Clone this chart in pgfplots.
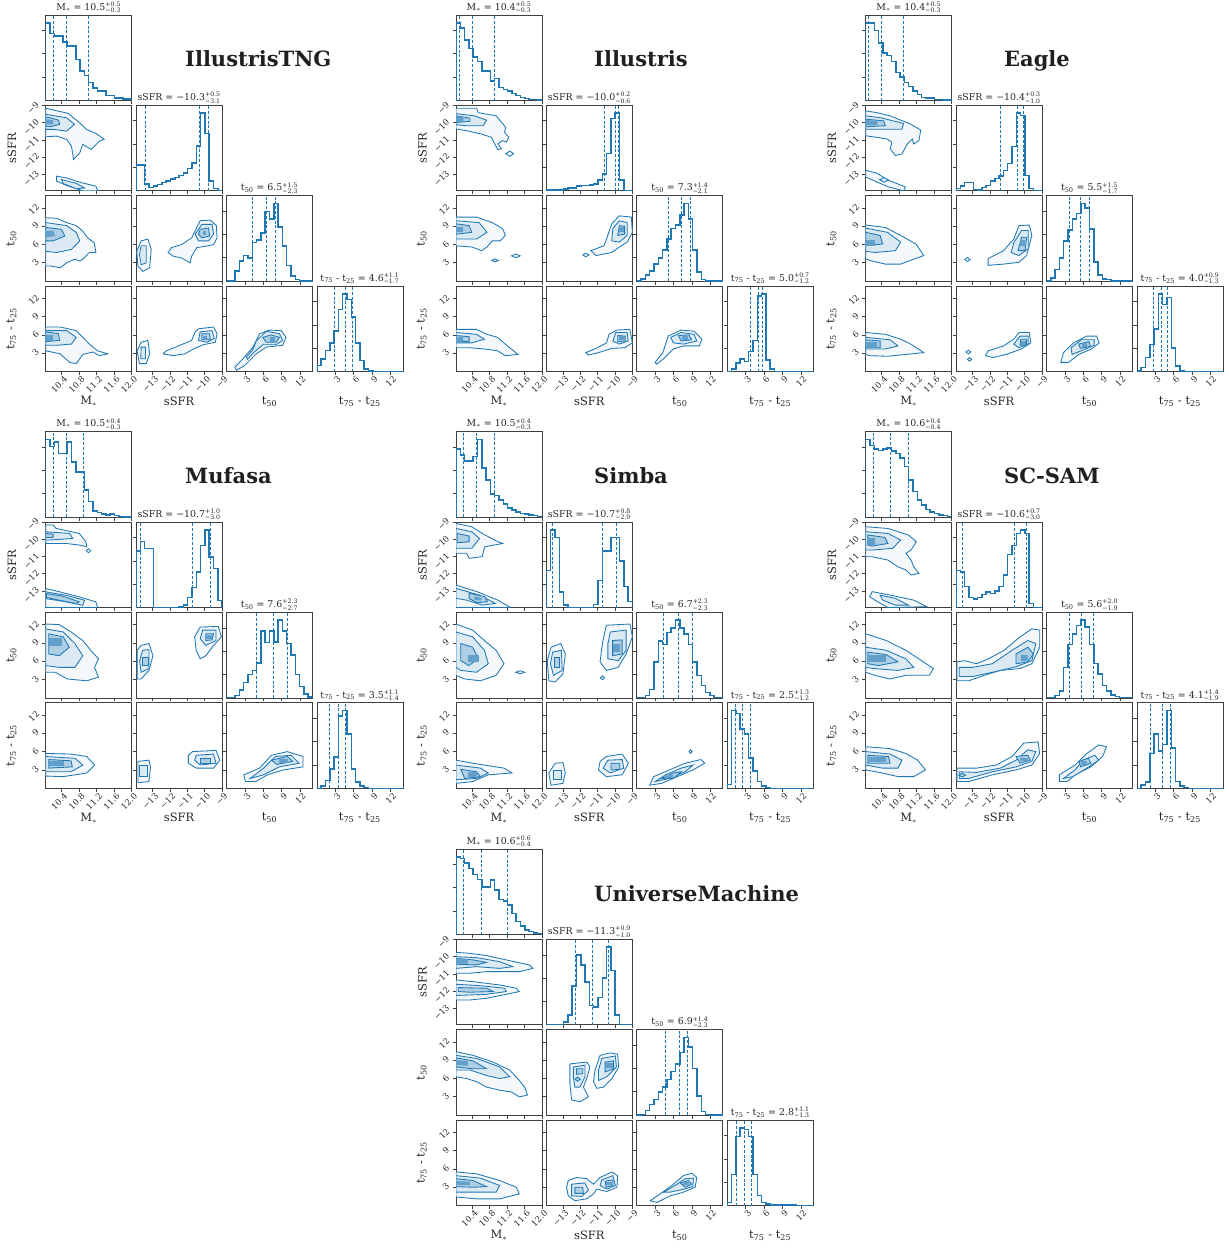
\documentclass[border=0pt]{standalone}
\usepackage{fontspec}
\setmainfont{DejaVu Serif}
\usepackage{pgfplots}
\pgfplotsset{compat=1.18}
\definecolor{tb}{HTML}{1F77B4}
\newcommand{\tk}{\fontsize{8.4}{9}\selectfont}
\newcommand{\ttl}{\fontsize{9.4}{10}\selectfont}
\newcommand{\lbl}{\fontsize{11.5}{13}\selectfont}
\newcommand{\pq}[2]{$^{\mbox{\fontsize{6.2}{6.5}\selectfont +#1}}_{\mbox{\fontsize{6.2}{6.5}\selectfont −#2}}$}
\pgfplotsset{
 base/.style={scale only axis, width=86pt, height=85.5pt, anchor=north west,
   axis line style={line width=0.8pt, black!75}, tick style={line width=0.8pt, black!75},
   tick align=outside, major tick length=3.5pt, tick pos=left,
   xticklabels={}, yticklabels={},
   xticklabel style={font=\tk, text=black!85, rotate=45, anchor=north east, xshift=2.5pt, inner sep=1.5pt},
   yticklabel style={font=\tk, text=black!85, rotate=45, anchor=south east, inner sep=1.5pt},
   every axis title/.style={at={(0.5,1)}, anchor=south, font=\ttl, text=black!85, inner sep=2pt},
   every axis x label/.style={at={(axis description cs:0.5,-0.25)}, anchor=north, font=\lbl, text=black!85},
   every axis y label/.style={at={(axis description cs:-0.3,0.5)}, anchor=south, rotate=90, font=\lbl, text=black!85},
   clip=true},
 pos/.style 2 args={at={(\cx pt+#1*90.4pt,-\cy pt-#2*90.35pt)}},
 xM/.style={xmin=10.03,xmax=12,xtick={10.4,10.8,11.2,11.6,12.0}},
 xS/.style={xmin=-13.95,xmax=-9,xtick={-13,-12,-11,-10,-9}},
 xT/.style={xmin=0,xmax=14,xtick={3,6,9,12}},
 yS/.style={ymin=-13.95,ymax=-9,ytick={-13,-12,-11,-10,-9}},
 yT/.style={ymin=0,ymax=14,ytick={3,6,9,12}},
 yH/.style={ymin=0,ymax=110,ytick={30,60,90}},
 lxM/.style={xticklabels={10.4,10.8,11.2,11.6,12.0},xlabel={M$_*$}},
 lxS/.style={xticklabels={−13,−12,−11,−10,−9},xlabel={sSFR}},
 lxT/.style={xticklabels={3,6,9,12},xlabel={t\textsubscript{50}}},
 lxU/.style={xticklabels={3,6,9,12},xlabel={t\textsubscript{75} - t\textsubscript{25}}},
 lyS/.style={yticklabels={−13,−12,−11,−10,−9},ylabel={sSFR}},
 lyT/.style={yticklabels={3,6,9,12},ylabel={t\textsubscript{50}}},
 lyU/.style={yticklabels={3,6,9,12},ylabel={t\textsubscript{75} - t\textsubscript{25}}},
 hist/.style={const plot mark left, color=tb, line width=1.5pt, mark=none},
 qline/.style={color=tb, line width=0.75pt, dash pattern=on 3pt off 1.8pt, mark=none},
 c1/.style={draw=tb, line width=0.85pt, fill=tb!5, mark=none},
 c2/.style={draw=tb, line width=0.85pt, fill=tb!16, mark=none},
 c3/.style={draw=tb, line width=0.85pt, fill=tb!36, mark=none},
 c4/.style={draw=none, fill=tb!70, mark=none},
}
\newcommand{\hst}[3]{\addplot[hist] table[header=false,row sep=\\,y index=0,x expr={#1+max(\coordindex-1,0)*#2}]{#3};}
\newcommand{\hM}[1]{\hst{10.03}{0.0985}{0\\#1\\0\\}}
\newcommand{\hS}[1]{\hst{-13.95}{0.2475}{0\\#1\\0\\}}
\newcommand{\hT}[1]{\hst{0}{0.7}{0\\#1\\0\\}}
\newcommand{\qq}[3]{\addplot[qline] coordinates {(#1,0)(#1,110)};\addplot[qline] coordinates {(#2,0)(#2,110)};\addplot[qline] coordinates {(#3,0)(#3,110)};}
\newcommand{\ca}[1]{\addplot[c1] coordinates {#1} -- cycle;}
\newcommand{\cb}[1]{\addplot[c2] coordinates {#1} -- cycle;}
\newcommand{\cc}[1]{\addplot[c3] coordinates {#1} -- cycle;}
\newcommand{\cd}[1]{\addplot[c4] coordinates {#1} -- cycle;}
\newcommand{\simtitle}[3]{\node[anchor=base west, inner sep=0pt, font=\fontsize{21}{21}\selectfont\bfseries, text=black!88] at (#1pt,-#2pt) {#3};}
\begin{document}
\begin{tikzpicture}
\useasboundingbox (0,0) rectangle (1229pt,-1248pt);
\simtitle{185}{66.5}{IllustrisTNG}
\simtitle{594}{66.5}{Illustris}
\simtitle{1004}{66.5}{Eagle}
\simtitle{185}{483.3}{Mufasa}
\simtitle{594}{483.3}{Simba}
\simtitle{1004}{483.3}{SC-SAM}
\simtitle{594}{901}{UniverseMachine}
%%%%%%%%%%%%%%%% IllustrisTNG
\def\cx{45.7}\def\cy{15}
\begin{axis}[base,pos={0}{0},xM,yH,title={M$_*$ = 10.5\pq{0.5}{0.3}}]
\hM{100\\86\\83\\83\\75\\70\\70\\53\\38\\32\\23\\16\\12\\12\\6.5\\6.5\\3.5\\3.5\\2\\2}
\qq{10.2}{10.5}{11.0}
\end{axis}
\begin{axis}[base,pos={0}{1},xM,yS,lyS]
\ca{(10.03,-9.17)(10.54,-9.46)(10.81,-10.01)(10.96,-10.39)(11.18,-10.62)(11.37,-10.97)(11.26,-11.07)(11.15,-11.36)(11.07,-11.55)(10.88,-11.26)(10.81,-11.75)(10.67,-12.13)(10.62,-11.36)(10.51,-10.97)(10.28,-10.78)(10.03,-10.82)}
\cb{(10.03,-9.52)(10.51,-9.72)(10.69,-10.10)(10.51,-10.49)(10.20,-10.39)(10.03,-10.39)}
\cc{(10.03,-9.66)(10.32,-9.85)(10.35,-10.10)(10.13,-10.24)(10.03,-10.20)}
\cd{(10.03,-9.8)(10.2,-9.85)(10.2,-10.1)(10.03,-10.1)}
\ca{(10.28,-13.10)(10.51,-13.20)(10.81,-13.45)(11.18,-13.68)(11.22,-13.95)(10.88,-13.95)(10.51,-13.64)(10.28,-13.39)}
\cb{(10.39,-13.29)(10.73,-13.52)(10.92,-13.78)(10.73,-13.83)(10.43,-13.52)}
\end{axis}
\begin{axis}[base,pos={1}{1},xS,yH,title={sSFR = −10.3\pq{0.5}{3.1}}]
\hS{33\\33\\9\\4\\6\\8\\10.5\\12.6\\15\\17\\20\\23\\29\\36\\58\\100\\74\\13\\3\\0}
\qq{-13.4}{-10.3}{-9.8}
\end{axis}
\begin{axis}[base,pos={0}{2},xM,yT,lyT]
\ca{(10.03,10.4)(10.28,10.3)(10.51,9.6)(10.73,9.1)(10.88,8.2)(10.99,7.1)(11.14,6.3)(11.18,4.7)(11.03,4.7)(10.88,3.6)(10.81,3.3)(10.69,3.6)(10.51,3.0)(10.36,2.2)(10.13,2.5)(10.03,2.5)}
\cb{(10.03,9.6)(10.51,9.1)(10.73,8.0)(10.81,6.6)(10.62,5.2)(10.28,4.7)(10.03,4.9)}
\cc{(10.03,8.8)(10.39,8.5)(10.47,7.4)(10.20,6.6)(10.03,6.6)}
\cd{(10.03,8.2)(10.2,8.3)(10.25,7.4)(10.03,7.2)}
\end{axis}
\begin{axis}[base,pos={1}{2},xS,yT]
\ca{(-10.26,9.9)(-9.68,10.0)(-9.33,9.1)(-9.29,7.1)(-9.49,6.0)(-9.78,5.8)(-10.46,5.5)(-10.75,4.1)(-10.84,3.0)(-11.33,3.8)(-11.82,4.1)(-12.11,4.7)(-11.91,5.5)(-11.33,6.0)(-10.75,7.1)(-10.46,8.8)}
\cb{(-10.17,9.3)(-9.58,9.3)(-9.49,7.7)(-9.78,6.6)(-10.36,6.6)(-10.55,7.7)}
\cc{(-10.26,8.5)(-9.78,8.7)(-9.72,7.4)(-10.17,7.1)(-10.36,7.7)}
\cd{(-10.1,8.2)(-9.9,8.2)(-9.9,7.6)(-10.1,7.6)}
\ca{(-13.66,6.6)(-13.27,6.9)(-13.08,5.2)(-13.17,2.2)(-13.56,1.6)(-13.85,2.5)(-13.91,4.9)}
\cb{(-13.66,5.8)(-13.37,5.8)(-13.37,3.0)(-13.66,2.7)(-13.76,4.4)}
\end{axis}
\begin{axis}[base,pos={2}{2},xT,yH,title={t\textsubscript{50} = 6.5\pq{1.5}{2.3}}]
\hT{0\\0\\13\\26\\33\\30\\50\\53\\62\\90\\80\\100\\70\\45\\20\\7\\2\\0\\0\\0}
\qq{4.2}{6.5}{8.0}
\end{axis}
\begin{axis}[base,pos={0}{3},xM,yT,lxM,lyU]
\ca{(10.03,7.3)(10.36,7.3)(10.73,6.7)(10.88,5.6)(11.03,4.5)(11.22,3.4)(11.45,2.9)(11.26,2.6)(11.11,3.2)(10.88,2.8)(10.73,1.3)(10.58,1.5)(10.36,2.9)(10.03,3.4)}
\cb{(10.03,6.7)(10.51,6.7)(10.73,5.6)(10.62,4.5)(10.28,4.3)(10.03,4.3)}
\cc{(10.03,6.5)(10.32,6.2)(10.35,5.1)(10.03,4.9)}
\cd{(10.03,6.0)(10.2,6.0)(10.2,5.0)(10.03,5.0)}
\end{axis}
\begin{axis}[base,pos={1}{3},xS,yT,lxS]
\ca{(-10.36,7.0)(-9.49,7.3)(-9.29,6.2)(-9.39,4.8)(-10.07,4.4)(-10.65,3.7)(-11.14,2.9)(-11.82,2.6)(-12.40,2.9)(-12.21,3.4)(-11.43,4.3)(-10.75,5.1)(-10.55,6.5)}
\cb{(-10.26,6.5)(-9.58,6.7)(-9.45,5.4)(-9.88,4.8)(-10.36,5.1)}
\cc{(-10.17,6.2)(-9.72,6.2)(-9.68,5.2)(-10.17,5.2)}
\cd{(-10.1,5.9)(-9.85,5.9)(-9.85,5.3)(-10.1,5.3)}
\ca{(-13.66,4.8)(-13.27,5.1)(-13.17,2.9)(-13.37,1.3)(-13.76,1.3)(-13.89,3.4)}
\cb{(-13.66,4.0)(-13.41,4.0)(-13.41,2.1)(-13.68,2.1)}
\end{axis}
\begin{axis}[base,pos={2}{3},xT,yT,lxT]
\ca{(1.35,0.7)(2.69,2.1)(4.31,4.0)(5.39,6.2)(7.0,6.8)(8.89,6.7)(9.69,5.6)(9.15,4.3)(6.46,4.0)(4.85,2.9)(2.96,1.0)(1.62,0.2)}
\cb{(3.23,2.4)(4.31,3.6)(4.85,5.0)(6.46,6.6)(8.62,6.2)(9.15,5.1)(8.08,4.4)(5.92,4.4)(4.31,3.0)(3.4,2.0)}
\cc{(5.92,5.6)(7.27,6.0)(8.62,5.6)(8.08,4.8)(6.46,4.8)}
\cd{(7.0,5.6)(7.9,5.6)(7.9,4.9)(7.0,4.9)}
\end{axis}
\begin{axis}[base,pos={3}{3},xT,yH,lxU,title={t\textsubscript{75} - t\textsubscript{25} = 4.6\pq{1.1}{1.7}}]
\hT{8\\16\\27\\37\\52\\80\\100\\93\\70\\37\\14\\3\\1\\0\\0\\0\\0\\0\\0\\0}
\qq{2.9}{4.6}{5.7}
\end{axis}
%%%%%%%%%%%%%%%% Illustris
\def\cx{456}\def\cy{15}
\begin{axis}[base,pos={0}{0},xM,yH,title={M$_*$ = 10.4\pq{0.5}{0.3}}]
\hM{100\\93\\78\\67\\56\\50\\38\\38\\25\\28\\17\\14\\12\\9\\6.5\\4\\2.6\\1.3\\1\\0.5}
\qq{10.1}{10.4}{10.9}
\end{axis}
\begin{axis}[base,pos={0}{1},xM,yS,lyS]
\ca{(10.03,-9.17)(10.50,-9.17)(10.54,-9.42)(10.95,-9.61)(11.17,-10.28)(11.14,-10.56)(11.24,-10.85)(11.18,-11.13)(11.09,-11.04)(10.99,-11.23)(11.07,-11.51)(10.99,-11.57)(10.92,-11.26)(10.84,-10.85)(10.61,-10.66)(10.27,-10.47)(10.03,-10.37)}
\cb{(10.03,-9.48)(10.46,-9.61)(10.73,-9.86)(10.65,-10.18)(10.27,-10.18)(10.03,-10.12)}
\cc{(10.03,-9.61)(10.35,-9.74)(10.35,-9.93)(10.03,-9.99)}
\cd{(10.03,-9.65)(10.2,-9.7)(10.2,-9.95)(10.03,-9.95)}
\ca{(11.17,-11.8)(11.26,-11.65)(11.35,-11.8)(11.26,-11.95)}
\end{axis}
\begin{axis}[base,pos={1}{1},xS,yH,title={sSFR = −10.0\pq{0.2}{0.6}}]
\hS{1.3\\1.3\\1.3\\1.3\\2.6\\3.4\\3.4\\6.4\\7\\7\\7.7\\9\\14\\22\\48\\93\\100\\14\\0\\0}
\qq{-10.6}{-10.0}{-9.8}
\end{axis}
\begin{axis}[base,pos={0}{2},xM,yT,lyT]
\ca{(10.03,10.5)(10.50,10.5)(10.86,9.6)(11.10,8.6)(11.16,7.5)(11.04,6.6)(10.86,6.6)(10.74,5.6)(10.62,5.0)(10.39,5.6)(10.03,5.8)}
\cb{(10.03,9.9)(10.56,9.6)(10.74,8.0)(10.50,6.9)(10.03,6.9)}
\cc{(10.03,9.4)(10.33,9.1)(10.39,8.0)(10.03,7.7)}
\cd{(10.03,8.8)(10.2,8.8)(10.2,8.0)(10.03,8.0)}
\ca{(11.3,4.15)(11.4,4.45)(11.5,4.15)(11.4,3.85)}
\ca{(10.85,3.4)(10.92,3.65)(11.0,3.4)(10.92,3.15)}
\end{axis}
\begin{axis}[base,pos={1}{2},xS,yT]
\ca{(-9.75,10.7)(-9.06,10.5)(-9.0,8.0)(-9.3,6.4)(-9.75,5.6)(-10.19,4.7)(-11.09,4.2)(-11.39,5.0)(-10.64,5.8)(-10.49,6.9)(-10.19,9.4)}
\cb{(-9.75,9.9)(-9.3,9.6)(-9.3,7.5)(-9.75,6.4)(-10.19,6.6)(-10.13,8.6)}
\cc{(-9.75,9.1)(-9.45,9.0)(-9.45,7.7)(-9.84,7.5)}
\cd{(-9.8,8.8)(-9.5,8.8)(-9.5,8.0)(-9.8,8.0)}
\ca{(-11.85,4.3)(-11.68,4.6)(-11.5,4.3)(-11.68,4.0)}
\end{axis}
\begin{axis}[base,pos={2}{2},xT,yH,title={t\textsubscript{50} = 7.3\pq{1.4}{2.1}}]
\hT{0\\3\\8\\13\\22\\30\\40\\54\\68\\72\\85\\100\\80\\40\\12\\2\\0\\0\\0\\0}
\qq{5.2}{7.3}{8.7}
\end{axis}
\begin{axis}[base,pos={0}{3},xM,yT,lxM,lyU]
\ca{(10.03,6.9)(10.50,6.9)(10.74,6.1)(10.98,5.6)(11.16,4.5)(11.45,2.8)(11.16,2.6)(10.98,3.4)(10.68,3.7)(10.33,3.9)(10.03,3.9)}
\cb{(10.03,6.4)(10.50,6.1)(10.68,5.3)(10.39,4.7)(10.03,4.7)}
\cc{(10.03,5.9)(10.33,5.7)(10.33,4.9)(10.03,5.0)}
\cd{(10.03,5.7)(10.2,5.7)(10.2,5.0)(10.03,5.0)}
\end{axis}
\begin{axis}[base,pos={1}{3},xS,yT,lxS]
\ca{(-9.89,6.8)(-9.15,6.9)(-9.0,4.7)(-9.45,3.9)(-10.19,3.8)(-10.94,3.1)(-11.54,2.7)(-11.68,3.1)(-11.09,3.8)(-10.49,4.7)(-10.34,6.1)}
\cb{(-9.95,6.4)(-9.3,6.4)(-9.24,5.0)(-9.75,4.5)(-10.13,5.0)}
\cc{(-9.84,5.9)(-9.42,5.8)(-9.42,5.0)(-9.84,4.9)}
\cd{(-9.8,5.8)(-9.5,5.8)(-9.5,5.1)(-9.8,5.1)}
\end{axis}
\begin{axis}[base,pos={2}{3},xT,yT,lxT]
\ca{(2.97,1.5)(4.24,3.1)(5.09,5.8)(7.21,6.8)(9.33,6.6)(10.6,5.3)(10.18,4.2)(7.64,4.2)(5.94,3.7)(4.24,2.0)(3.22,1.2)}
\cb{(5.52,5.6)(7.21,6.4)(9.33,6.1)(9.76,5.0)(7.64,4.5)(5.94,4.7)}
\cc{(6.79,5.9)(8.48,6.0)(8.91,5.2)(7.21,5.0)}
\cd{(7.3,5.9)(8.4,5.9)(8.4,5.2)(7.3,5.2)}
\end{axis}
\begin{axis}[base,pos={3}{3},xT,yH,lxU,title={t\textsubscript{75} - t\textsubscript{25} = 5.0\pq{0.7}{1.2}}]
\hT{0\\3\\11\\16\\13\\26\\40\\97\\100\\15\\3\\0\\0\\0\\0\\0\\0\\0\\0\\0}
\qq{3.8}{5.0}{5.7}
\end{axis}
%%%%%%%%%%%%%%%% Eagle
\def\cx{865.7}\def\cy{15}
\begin{axis}[base,pos={0}{0},xM,yH,title={M$_*$ = 10.4\pq{0.5}{0.3}}]
\hM{100\\100\\90\\74\\61\\58\\50\\36\\30\\23\\18\\12\\8\\4\\3\\3\\1\\1\\0.5\\0.5}
\qq{10.1}{10.4}{10.9}
\end{axis}
\begin{axis}[base,pos={0}{1},xM,yS,lyS]
\ca{(10.03,-9.32)(10.28,-9.42)(10.59,-9.61)(11.06,-10.09)(11.29,-10.43)(11.25,-11.04)(11.13,-11.24)(11.10,-10.95)(10.98,-11.24)(10.86,-11.81)(10.71,-11.9)(10.59,-11.52)(10.63,-11.14)(10.52,-10.95)(10.28,-10.85)(10.03,-10.76)}
\cb{(10.03,-9.61)(10.36,-9.71)(10.90,-10.05)(10.86,-10.38)(10.36,-10.38)(10.03,-10.38)}
\cc{(10.03,-9.80)(10.44,-9.90)(10.48,-10.18)(10.03,-10.24)}
\cd{(10.03,-9.85)(10.3,-9.9)(10.3,-10.15)(10.03,-10.15)}
\ca{(10.03,-12.76)(10.28,-12.92)(10.55,-13.34)(10.94,-13.72)(10.9,-13.95)(10.55,-13.72)(10.28,-13.43)(10.03,-13.15)}
\cb{(10.35,-13.3)(10.45,-13.18)(10.55,-13.32)(10.45,-13.45)}
\end{axis}
\begin{axis}[base,pos={1}{1},xS,yH,title={sSFR = −10.4\pq{0.3}{1.0}}]
\hS{3\\6.4\\10.7\\10.7\\2\\1\\4\\7\\13\\16\\19\\26\\35\\57\\100\\97\\20\\3\\0\\0}
\qq{-11.4}{-10.4}{-10.1}
\end{axis}
\begin{axis}[base,pos={0}{2},xM,yT,lyT]
\ca{(10.03,9.2)(10.48,8.8)(10.83,7.5)(11.18,6.1)(11.36,4.2)(11.24,3.9)(10.83,2.8)(10.48,2.8)(10.12,3.4)(10.03,3.7)}
\cb{(10.03,8.7)(10.53,8.0)(10.83,6.4)(10.71,5.0)(10.24,4.7)(10.03,4.9)}
\cc{(10.03,8.0)(10.36,7.5)(10.42,6.1)(10.03,5.8)}
\cd{(10.03,6.8)(10.25,6.8)(10.25,5.8)(10.03,5.8)}
\end{axis}
\begin{axis}[base,pos={1}{2},xS,yT]
\ca{(-10.33,9.1)(-9.74,9.2)(-9.59,7.5)(-9.89,4.2)(-10.33,3.1)(-11.22,2.8)(-12.11,2.6)(-12.11,3.7)(-11.22,5.0)(-10.63,6.9)}
\cb{(-10.18,8.3)(-9.80,8.3)(-9.80,5.3)(-10.33,4.2)(-10.78,4.7)(-10.63,6.3)}
\cc{(-10.18,7.2)(-9.89,7.2)(-9.98,5.0)(-10.39,5.0)}
\cd{(-10.3,6.8)(-10.0,6.8)(-10.0,5.8)(-10.3,5.8)}
\ca{(-13.45,3.55)(-13.3,3.9)(-13.15,3.55)(-13.3,3.2)}
\end{axis}
\begin{axis}[base,pos={2}{2},xT,yH,title={t\textsubscript{50} = 5.5\pq{1.5}{1.7}}]
\hT{0\\4\\15\\30\\52\\66\\80\\87\\100\\94\\67\\25\\8\\3\\2\\0\\0\\0\\0\\0}
\qq{3.8}{5.5}{7.0}
\end{axis}
\begin{axis}[base,pos={0}{3},xM,yT,lxM,lyU]
\ca{(10.03,6.4)(10.48,6.1)(10.83,5.3)(11.06,4.5)(11.36,3.1)(10.95,2.8)(10.53,2.5)(10.12,2.6)(10.03,2.8)}
\cb{(10.03,5.6)(10.59,5.2)(10.77,4.2)(10.48,3.7)(10.03,3.7)}
\cc{(10.03,5.2)(10.36,5.0)(10.36,3.9)(10.03,3.9)}
\cd{(10.03,4.9)(10.3,4.9)(10.3,4.1)(10.03,4.1)}
\end{axis}
\begin{axis}[base,pos={1}{3},xS,yT,lxS]
\ca{(-10.33,6.4)(-9.74,6.4)(-9.65,4.7)(-10.18,3.7)(-11.07,2.8)(-11.82,2.3)(-12.26,2.6)(-12.11,3.4)(-11.22,4.2)(-10.63,5.3)}
\cb{(-10.27,5.8)(-9.80,5.8)(-9.80,4.5)(-10.33,3.9)(-10.63,4.5)}
\cc{(-10.24,5.3)(-9.89,5.3)(-9.89,4.3)(-10.27,4.3)}
\cd{(-10.2,5.0)(-9.9,5.0)(-9.9,4.4)(-10.2,4.4)}
\ca{(-13.4,3.2)(-13.25,3.5)(-13.1,3.2)(-13.25,2.9)}
\ca{(-13.3,2.0)(-13.18,2.3)(-13.05,2.0)(-13.18,1.7)}
\end{axis}
\begin{axis}[base,pos={2}{3},xT,yT,lxT]
\ca{(2.33,1.5)(2.75,3.1)(4.41,4.7)(6.5,5.8)(8.16,5.8)(8.58,4.7)(7.33,3.7)(5.25,2.8)(3.58,1.5)}
\cb{(4.0,3.9)(5.66,5.2)(7.75,5.2)(7.75,4.3)(5.66,3.4)(4.16,2.8)}
\cc{(5.25,4.5)(6.91,4.9)(7.16,4.1)(5.5,3.8)}
\cd{(5.8,4.7)(6.6,4.7)(6.6,4.0)(5.8,4.0)}
\end{axis}
\begin{axis}[base,pos={3}{3},xT,yH,lxU,title={t\textsubscript{75} - t\textsubscript{25} = 4.0\pq{0.9}{1.3}}]
\hT{1\\5\\18\\35\\55\\100\\86\\95\\30\\7\\1\\0\\0\\0\\0\\0\\0\\0\\0\\0}
\qq{2.7}{4.0}{4.9}
\end{axis}
%%%%%%%%%%%%%%%% Mufasa
\def\cx{45.7}\def\cy{431.7}
\begin{axis}[base,pos={0}{0},xM,yH,title={M$_*$ = 10.5\pq{0.4}{0.3}}]
\hM{100\\91\\97\\82\\82\\97\\71\\58\\58\\35\\20\\8\\6\\4\\3\\4\\2\\1\\0.5\\0}
\qq{10.2}{10.5}{10.9}
\end{axis}
\begin{axis}[base,pos={0}{1},xM,yS,lyS]
\ca{(10.03,-9.17)(10.20,-9.17)(10.27,-9.37)(10.80,-9.66)(10.95,-10.14)(10.97,-10.43)(10.80,-10.33)(10.50,-10.24)(10.12,-10.24)(10.03,-10.24)}
\cb{(10.03,-9.56)(10.58,-9.66)(10.65,-9.95)(10.12,-10.04)(10.03,-10.04)}
\cc{(10.03,-9.66)(10.20,-9.70)(10.20,-9.89)(10.03,-9.89)}
\ca{(10.96,-10.66)(11.01,-10.54)(11.06,-10.66)(11.01,-10.78)}
\ca{(10.03,-12.85)(10.35,-13.04)(10.80,-13.33)(11.18,-13.62)(11.22,-13.95)(10.03,-13.95)}
\cb{(10.03,-13.04)(10.50,-13.24)(10.92,-13.53)(10.88,-13.82)(10.50,-13.62)(10.03,-13.43)}
\cc{(10.05,-13.14)(10.42,-13.29)(10.80,-13.62)(10.72,-13.72)(10.35,-13.53)(10.05,-13.37)}
\end{axis}
\begin{axis}[base,pos={1}{1},xS,yH,title={sSFR = −10.7\pq{1.0}{3.0}}]
\hS{73\\85\\76\\76\\0\\0\\0\\0\\0\\0\\1\\3\\13\\26\\46\\80\\100\\65\\50\\9}
\qq{-13.7}{-10.7}{-9.7}
\end{axis}
\begin{axis}[base,pos={0}{2},xM,yT,lyT]
\ca{(10.03,12.1)(10.34,12.0)(10.61,10.8)(10.88,9.4)(11.06,7.8)(11.24,6.4)(11.15,5.0)(11.24,3.4)(10.97,2.8)(10.52,3.1)(10.25,4.2)(10.03,4.2)}
\cb{(10.03,11.3)(10.43,10.8)(10.70,8.9)(10.88,6.9)(10.70,5.0)(10.34,5.0)(10.03,5.3)}
\cc{(10.10,10.5)(10.43,10.0)(10.57,8.3)(10.34,6.9)(10.10,7.2)}
\cd{(10.1,9.8)(10.4,9.8)(10.4,8.5)(10.1,8.5)}
\end{axis}
\begin{axis}[base,pos={1}{2},xS,yT]
\ca{(-10.26,11.6)(-9.22,11.7)(-9.04,10.0)(-9.49,8.6)(-9.94,6.9)(-10.26,6.4)(-10.49,7.8)(-10.58,10.0)}
\cb{(-10.12,11.1)(-9.35,11.1)(-9.35,9.4)(-9.94,8.6)(-10.26,9.7)}
\cc{(-9.94,10.5)(-9.49,10.5)(-9.58,9.5)(-9.94,9.4)}
\cd{(-9.9,10.3)(-9.6,10.3)(-9.6,9.6)(-9.9,9.6)}
\ca{(-13.66,8.6)(-13.21,8.9)(-12.98,6.9)(-13.21,4.5)(-13.66,3.1)(-13.89,3.1)(-13.89,7.8)}
\cb{(-13.57,7.8)(-13.21,7.9)(-13.21,4.8)(-13.66,4.2)(-13.75,6.1)}
\cc{(-13.57,6.7)(-13.25,6.7)(-13.25,5.3)(-13.57,5.3)}
\end{axis}
\begin{axis}[base,pos={2}{2},xT,yH,title={t\textsubscript{50} = 7.6\pq{2.3}{2.7}}]
\hT{0\\0\\3\\10\\20\\30\\35\\45\\86\\71\\86\\72\\100\\86\\70\\55\\30\\15\\5\\1}
\qq{4.9}{7.6}{9.9}
\end{axis}
\begin{axis}[base,pos={0}{3},xM,yT,lxM,lyU]
\ca{(10.03,5.7)(10.61,5.6)(10.97,5.2)(11.15,3.8)(10.97,2.5)(10.43,1.9)(10.03,2.0)}
\cb{(10.03,5.2)(10.70,4.9)(10.88,3.8)(10.61,2.7)(10.03,2.7)}
\cc{(10.10,4.7)(10.61,4.5)(10.64,3.5)(10.10,3.3)}
\cd{(10.1,4.4)(10.45,4.4)(10.45,3.6)(10.1,3.6)}
\end{axis}
\begin{axis}[base,pos={1}{3},xS,yT,lxS]
\ca{(-10.71,6.0)(-9.35,6.2)(-9.13,4.6)(-9.49,3.3)(-10.49,3.3)(-10.94,4.1)(-10.94,5.4)}
\cb{(-10.49,5.4)(-9.49,5.6)(-9.35,4.1)(-10.26,3.8)(-10.58,4.6)}
\cc{(-10.26,4.9)(-9.67,4.9)(-9.67,4.0)(-10.26,4.0)}
\ca{(-13.84,4.4)(-13.21,4.6)(-13.12,3.5)(-13.21,1.1)(-13.84,0.9)}
\cb{(-13.75,3.8)(-13.30,3.8)(-13.30,1.9)(-13.75,1.9)}
\end{axis}
\begin{axis}[base,pos={2}{3},xT,yT,lxT]
\ca{(3.08,1.1)(2.82,2.2)(5.39,3.3)(7.32,5.4)(9.89,6.0)(12.45,5.2)(12.45,3.5)(9.24,3.0)(6.68,2.2)(4.75,1.1)}
\cb{(3.85,1.6)(6.03,3.3)(7.96,5.2)(10.53,5.4)(11.81,4.1)(8.6,3.5)(6.03,2.2)}
\cc{(7.32,4.6)(9.89,5.2)(10.79,4.4)(8.22,3.9)}
\cd{(8.5,4.8)(10.0,4.8)(10.0,4.1)(8.5,4.1)}
\end{axis}
\begin{axis}[base,pos={3}{3},xT,yH,lxU,title={t\textsubscript{75} - t\textsubscript{25} = 3.5\pq{1.1}{1.4}}]
\hT{0\\3\\10\\25\\40\\93\\100\\70\\25\\8\\3\\1\\0\\0\\0\\0\\0\\0\\0\\0}
\qq{2.1}{3.5}{4.6}
\end{axis}
%%%%%%%%%%%%%%%% Simba
\def\cx{456}\def\cy{431.7}
\begin{axis}[base,pos={0}{0},xM,yH,title={M$_*$ = 10.5\pq{0.4}{0.3}}]
\hM{88\\80\\72\\72\\78\\100\\63\\48\\30\\28\\22\\17\\12\\9\\7\\5\\4\\3\\2\\1}
\qq{10.2}{10.5}{10.9}
\end{axis}
\begin{axis}[base,pos={0}{1},xM,yS,lyS]
\ca{(10.03,-9.08)(10.39,-9.27)(10.63,-9.66)(10.99,-10.14)(11.10,-10.24)(10.69,-10.43)(10.63,-11.0)(10.33,-11.1)(10.27,-10.81)(10.03,-10.81)}
\cb{(10.03,-9.37)(10.39,-9.56)(10.57,-9.95)(10.39,-10.52)(10.03,-10.52)}
\cc{(10.06,-9.66)(10.33,-9.81)(10.33,-10.14)(10.06,-10.20)}
\ca{(10.03,-12.65)(10.51,-13.03)(10.99,-13.52)(11.28,-13.95)(10.03,-13.95)}
\cb{(10.03,-12.84)(10.57,-13.23)(10.93,-13.71)(10.63,-13.81)(10.27,-13.52)(10.03,-13.42)}
\cc{(10.33,-13.13)(10.69,-13.32)(10.75,-13.61)(10.51,-13.67)(10.33,-13.42)}
\cd{(10.45,-13.3)(10.62,-13.4)(10.6,-13.55)(10.45,-13.5)}
\end{axis}
\begin{axis}[base,pos={1}{1},xS,yH,title={sSFR = −10.7\pq{0.8}{2.9}}]
\hS{48\\100\\90\\20\\3\\0\\0\\0\\0\\0\\0\\4\\35\\73\\73\\90\\90\\60\\27\\8}
\qq{-13.6}{-10.7}{-9.9}
\end{axis}
\begin{axis}[base,pos={0}{2},xM,yT,lyT]
\ca{(10.03,12.1)(10.41,11.1)(10.68,9.4)(10.95,7.8)(11.13,5.6)(10.95,3.7)(10.59,2.8)(10.23,3.1)(10.03,3.7)}
\cb{(10.03,10.8)(10.41,10.0)(10.68,7.8)(10.77,5.6)(10.50,4.2)(10.14,4.5)(10.03,5.0)}
\cc{(10.14,8.9)(10.41,8.3)(10.55,6.4)(10.32,5.3)(10.14,6.1)}
\cd{(10.3,7.0)(10.55,7.0)(10.55,5.8)(10.3,5.8)}
\ca{(11.4,4.2)(11.5,4.45)(11.6,4.2)(11.5,3.95)}
\end{axis}
\begin{axis}[base,pos={1}{2},xS,yT]
\ca{(-10.50,11.9)(-9.14,12.1)(-9.0,10.0)(-9.36,7.2)(-9.82,5.0)(-10.50,4.5)(-10.86,5.9)(-10.73,8.9)}
\cb{(-10.27,10.8)(-9.36,11.1)(-9.36,7.8)(-9.82,6.1)(-10.41,6.4)(-10.41,8.9)}
\cc{(-10.14,9.4)(-9.59,9.5)(-9.59,7.2)(-10.14,6.9)}
\cd{(-10.1,8.8)(-9.7,8.8)(-9.7,7.5)(-10.1,7.5)}
\ca{(-13.68,8.3)(-13.13,8.9)(-12.86,7.2)(-13.0,3.9)(-13.45,2.6)(-13.81,2.8)(-13.9,6.1)}
\cb{(-13.59,7.5)(-13.09,7.8)(-13.04,4.5)(-13.54,3.7)(-13.72,5.6)}
\cc{(-13.5,6.7)(-13.18,6.7)(-13.18,5.0)(-13.5,5.0)}
\ca{(-10.85,3.3)(-10.72,3.6)(-10.6,3.3)(-10.72,3.0)}
\end{axis}
\begin{axis}[base,pos={2}{2},xT,yH,title={t\textsubscript{50} = 6.7\pq{2.3}{2.3}}]
\hT{0\\0\\3\\11\\46\\73\\69\\84\\90\\100\\90\\82\\69\\46\\29\\16\\7\\3\\0\\0}
\qq{4.4}{6.7}{9.0}
\end{axis}
\begin{axis}[base,pos={0}{3},xM,yT,lxM,lyU]
\ca{(10.03,4.6)(10.41,4.1)(11.13,3.3)(11.31,2.5)(10.77,2.2)(10.41,1.1)(10.03,0.8)}
\cb{(10.03,3.8)(10.59,3.3)(10.77,2.5)(10.50,1.6)(10.03,1.4)}
\cc{(10.14,3.1)(10.50,2.7)(10.59,1.9)(10.23,1.6)}
\cd{(10.3,2.6)(10.5,2.6)(10.5,1.8)(10.3,1.8)}
\end{axis}
\begin{axis}[base,pos={1}{3},xS,yT,lxS]
\ca{(-10.50,5.2)(-9.59,5.6)(-9.23,4.1)(-9.59,2.2)(-10.50,1.9)(-10.95,3.0)(-10.86,4.4)}
\cb{(-10.41,4.6)(-9.59,4.7)(-9.5,3.3)(-10.27,2.5)(-10.68,3.3)}
\cc{(-10.23,4.1)(-9.73,4.1)(-9.73,3.1)(-10.23,3.0)}
\ca{(-13.45,4.1)(-13.0,4.2)(-12.86,2.5)(-13.0,0.8)(-13.68,0.5)(-13.81,2.5)}
\cb{(-13.54,2.9)(-13.09,2.9)(-13.09,1.4)(-13.54,1.4)}
\end{axis}
\begin{axis}[base,pos={2}{3},xT,yT,lxT]
\ca{(2.1,0.5)(2.74,1.9)(5.3,3.0)(7.87,4.1)(10.43,4.7)(11.07,4.1)(9.15,3.0)(6.59,1.9)(4.02,0.8)}
\cb{(3.0,1.1)(4.67,2.2)(7.23,3.3)(9.15,3.8)(7.87,2.7)(5.3,1.6)}
\cc{(4.02,1.6)(5.95,2.5)(7.23,2.7)(5.95,1.6)}
\cd{(4.5,2.1)(5.9,2.2)(5.9,1.7)(4.5,1.6)}
\ca{(8.5,6.0)(8.75,6.3)(9.0,6.0)(8.75,5.7)}
\end{axis}
\begin{axis}[base,pos={3}{3},xT,yH,lxU,title={t\textsubscript{75} - t\textsubscript{25} = 2.5\pq{1.3}{1.2}}]
\hT{5\\100\\96\\76\\70\\39\\22\\9\\3\\1\\0\\0\\0\\0\\0\\0\\0\\0\\0\\0}
\qq{1.3}{2.5}{3.8}
\end{axis}
%%%%%%%%%%%%%%%% SC-SAM
\def\cx{865.7}\def\cy{431.7}
\begin{axis}[base,pos={0}{0},xM,yH,title={M$_*$ = 10.6\pq{0.4}{0.4}}]
\hM{100\\92\\88\\86\\88\\89\\85\\82\\76\\65\\48\\33\\22\\16\\10\\7\\5\\3\\2\\1}
\qq{10.2}{10.6}{11.0}
\end{axis}
\begin{axis}[base,pos={0}{1},xM,yS,lyS]
\ca{(10.03,-9.27)(10.54,-9.37)(11.01,-9.75)(11.19,-10.14)(11.07,-10.62)(10.95,-10.81)(11.07,-11.20)(11.13,-11.59)(11.25,-11.97)(11.07,-12.07)(10.95,-11.78)(10.77,-11.59)(10.54,-11.20)(10.18,-11.01)(10.03,-11.01)}
\cb{(10.03,-9.56)(10.54,-9.66)(10.83,-10.04)(10.65,-10.52)(10.18,-10.62)(10.03,-10.62)}
\cc{(10.08,-9.75)(10.47,-9.89)(10.54,-10.24)(10.18,-10.39)(10.08,-10.33)}
\cd{(10.08,-9.95)(10.25,-9.95)(10.25,-10.3)(10.08,-10.3)}
\ca{(10.18,-13.03)(10.60,-13.23)(11.13,-13.52)(11.43,-13.9)(10.54,-13.95)(10.30,-13.61)(10.12,-13.32)}
\cb{(10.36,-13.23)(10.71,-13.42)(11.01,-13.81)(10.71,-13.81)(10.42,-13.52)}
\end{axis}
\begin{axis}[base,pos={1}{1},xS,yH,title={sSFR = −10.6\pq{0.7}{3.0}}]
\hS{48\\46\\27\\13\\11\\13\\17\\20\\18\\21\\27\\42\\68\\80\\95\\100\\95\\5\\0\\0}
\qq{-13.6}{-10.6}{-9.9}
\end{axis}
\begin{axis}[base,pos={0}{2},xM,yT,lyT]
\ca{(10.03,10.5)(10.50,9.4)(10.95,7.8)(11.31,6.1)(11.58,4.8)(11.49,3.7)(10.95,3.7)(10.59,3.1)(10.23,3.7)(10.03,4.2)}
\cb{(10.03,8.3)(10.50,7.8)(10.95,6.4)(11.13,5.0)(10.77,4.5)(10.23,4.8)(10.03,5.0)}
\cc{(10.08,7.5)(10.50,7.1)(10.77,5.9)(10.32,5.3)(10.08,5.6)}
\cd{(10.1,7.0)(10.5,7.0)(10.5,5.8)(10.1,5.8)}
\end{axis}
\begin{axis}[base,pos={1}{2},xS,yT]
\ca{(-13.9,5.9)(-13.45,6.1)(-12.77,5.6)(-12.09,6.4)(-11.18,7.8)(-10.27,10.0)(-9.59,11.3)(-9.14,11.1)(-9.14,8.3)(-9.59,5.6)(-10.27,4.8)(-11.41,4.5)(-12.32,3.7)(-13.23,2.8)(-13.9,2.8)}
\cb{(-13.77,5.0)(-13.0,5.0)(-11.86,5.6)(-10.73,7.8)(-9.82,9.4)(-9.36,8.9)(-9.59,6.1)(-10.50,5.1)(-11.86,4.2)(-13.0,3.5)(-13.77,3.5)}
\cc{(-10.5,7.2)(-9.82,8.3)(-9.5,7.2)(-9.82,5.9)(-10.5,5.6)}
\cd{(-10.2,7.0)(-9.8,7.0)(-9.8,6.0)(-10.2,6.0)}
\end{axis}
\begin{axis}[base,pos={2}{2},xT,yH,title={t\textsubscript{50} = 5.6\pq{2.0}{1.9}}]
\hT{0\\0\\3\\9\\39\\69\\82\\93\\100\\91\\69\\44\\31\\16\\9\\4\\2\\0\\0\\0}
\qq{3.7}{5.6}{7.6}
\end{axis}
\begin{axis}[base,pos={0}{3},xM,yT,lxM,lyU]
\ca{(10.03,6.8)(10.59,6.5)(10.95,5.7)(11.22,4.6)(11.40,3.0)(11.13,1.9)(10.77,1.9)(10.41,2.5)(10.03,3.0)}
\cb{(10.03,6.0)(10.59,5.6)(10.86,4.6)(10.77,3.3)(10.41,3.3)(10.03,3.8)}
\cc{(10.08,5.4)(10.55,5.2)(10.59,4.1)(10.08,4.1)}
\cd{(10.1,5.1)(10.5,5.1)(10.5,4.3)(10.1,4.3)}
\end{axis}
\begin{axis}[base,pos={1}{3},xS,yT,lxS]
\ca{(-13.9,3.3)(-12.77,3.3)(-11.64,3.8)(-10.73,5.2)(-10.05,7.4)(-9.23,7.6)(-9.14,5.7)(-9.59,3.8)(-10.50,3.0)(-11.86,2.2)(-13.23,1.1)(-13.9,1.1)}
\cb{(-13.77,2.7)(-12.77,2.6)(-11.41,3.3)(-10.50,4.6)(-9.82,6.3)(-9.36,6.0)(-9.59,4.4)(-10.5,3.5)(-11.86,2.7)(-13.23,1.6)(-13.77,1.6)}
\cc{(-10.5,5.2)(-9.82,5.4)(-9.68,4.6)(-10.27,4.1)}
\cd{(-10.3,5.0)(-9.8,5.0)(-9.8,4.4)(-10.3,4.4)}
\cc{(-13.8,2.15)(-13.6,2.45)(-13.4,2.15)(-13.6,1.85)}
\end{axis}
\begin{axis}[base,pos={2}{3},xT,yT,lxT]
\ca{(2.09,1.1)(2.09,2.2)(4.65,3.8)(6.57,5.7)(8.5,7.1)(9.78,6.8)(9.14,5.2)(7.21,3.5)(4.65,2.2)(3.37,1.1)}
\cb{(2.73,1.6)(4.65,3.0)(5.93,4.6)(7.86,5.4)(8.5,4.6)(6.57,3.3)(4.27,1.9)}
\cc{(5.29,4.4)(6.83,4.9)(7.21,4.1)(5.55,3.5)}
\cd{(5.6,4.5)(6.6,4.5)(6.6,3.8)(5.6,3.8)}
\end{axis}
\begin{axis}[base,pos={3}{3},xT,yH,lxU,title={t\textsubscript{75} - t\textsubscript{25} = 4.1\pq{1.4}{1.9}}]
\hT{0\\4\\8\\45\\70\\48\\56\\100\\52\\9\\3\\1\\0\\0\\0\\0\\0\\0\\0\\0}
\qq{2.2}{4.1}{5.5}
\end{axis}
%%%%%%%%%%%%%%%% UniverseMachine
\def\cx{456}\def\cy{849}
\begin{axis}[base,pos={0}{0},xM,yH,title={M$_*$ = 10.6\pq{0.6}{0.4}}]
\hM{100\\98\\92\\85\\77\\71\\61\\61\\70\\57\\45\\43\\38\\27\\17\\11\\6\\4\\2\\1}
\qq{10.2}{10.6}{11.2}
\end{axis}
\begin{axis}[base,pos={0}{1},xM,yS,lyS]
\ca{(10.03,-9.75)(10.35,-9.81)(10.73,-9.94)(11.18,-10.19)(11.71,-10.48)(11.79,-10.68)(11.48,-10.87)(11.11,-10.87)(10.73,-10.87)(10.35,-10.96)(10.03,-10.96)}
\cb{(10.03,-10.0)(10.50,-10.06)(11.03,-10.29)(11.33,-10.58)(11.03,-10.68)(10.50,-10.58)(10.03,-10.68)}
\cc{(10.03,-10.10)(10.42,-10.19)(10.73,-10.33)(10.50,-10.48)(10.03,-10.44)}
\cd{(10.03,-10.1)(10.3,-10.15)(10.3,-10.4)(10.03,-10.4)}
\ca{(10.03,-11.35)(10.42,-11.45)(11.03,-11.64)(11.41,-11.83)(11.48,-12.02)(11.18,-12.18)(10.73,-12.41)(10.35,-12.51)(10.03,-12.51)}
\cb{(10.03,-11.60)(10.58,-11.68)(11.14,-11.83)(11.18,-12.02)(10.73,-12.18)(10.03,-12.25)}
\cc{(10.08,-11.79)(10.73,-11.83)(10.88,-12.02)(10.35,-12.06)(10.08,-12.02)}
\end{axis}
\begin{axis}[base,pos={1}{1},xS,yH,title={sSFR = −11.3\pq{0.9}{1.0}}]
\hS{0\\0\\0\\0\\4\\13\\50\\90\\77\\55\\25\\23\\35\\60\\100\\70\\13\\0\\0\\0}
\qq{-12.3}{-11.3}{-10.4}
\end{axis}
\begin{axis}[base,pos={0}{2},xM,yT,lyT]
\ca{(10.03,10.4)(10.42,9.8)(10.88,8.7)(11.26,7.4)(11.48,5.7)(11.60,4.6)(11.67,3.3)(11.48,3.0)(11.30,3.8)(11.03,4.1)(10.73,4.6)(10.50,5.5)(10.27,6.0)(10.03,6.3)}
\cb{(10.03,9.8)(10.50,9.3)(11.03,7.9)(11.26,6.3)(11.03,6.0)(10.73,6.5)(10.35,7.4)(10.03,7.4)}
\cc{(10.03,9.4)(10.42,8.9)(10.73,7.6)(10.42,7.6)(10.03,7.9)}
\cd{(10.03,9.0)(10.3,8.9)(10.3,8.1)(10.03,8.2)}
\end{axis}
\begin{axis}[base,pos={1}{2},xS,yT]
\ca{(-10.86,9.8)(-10.28,10.2)(-9.85,10.0)(-9.79,7.9)(-10.18,6.0)(-10.66,4.6)(-11.05,4.4)(-11.24,5.5)(-11.15,7.4)}
\cb{(-10.76,9.3)(-9.98,9.7)(-9.92,7.9)(-10.47,6.3)(-10.95,5.7)(-10.95,7.4)}
\cc{(-10.57,8.7)(-10.08,8.9)(-10.08,7.6)(-10.57,7.1)}
\cd{(-10.5,8.6)(-10.1,8.6)(-10.1,7.7)(-10.5,7.7)}
\ca{(-12.60,8.4)(-11.63,8.7)(-11.44,7.9)(-11.63,6.0)(-11.82,4.6)(-11.53,3.0)(-12.02,2.2)(-12.50,2.5)(-12.60,5.2)}
\cb{(-12.40,7.9)(-11.73,8.2)(-11.73,6.3)(-12.02,4.6)(-12.31,4.6)(-12.40,6.3)}
\cc{(-12.21,7.6)(-11.86,7.6)(-11.86,6.8)(-12.21,6.7)}
\cc{(-12.3,5.9)(-12.15,6.25)(-12.0,5.9)(-12.15,5.55)}
\end{axis}
\begin{axis}[base,pos={2}{2},xT,yH,title={t\textsubscript{50} = 6.9\pq{1.4}{2.3}}]
\hT{0\\1\\6\\14\\20\\30\\36\\46\\56\\66\\81\\100\\88\\60\\25\\5\\1\\0\\0\\0}
\qq{4.6}{6.9}{8.3}
\end{axis}
\begin{axis}[base,pos={0}{3},xM,yT,lxM,lyU]
\ca{(10.03,5.5)(10.50,5.2)(11.03,4.1)(11.41,3.0)(11.48,1.9)(11.03,1.1)(10.50,1.1)(10.03,1.4)}
\cb{(10.03,4.9)(10.58,4.5)(11.03,3.3)(10.95,2.2)(10.50,2.2)(10.03,2.2)}
\cc{(10.03,4.4)(10.42,4.1)(10.73,3.1)(10.42,3.0)(10.03,3.1)}
\cd{(10.03,4.0)(10.35,3.9)(10.35,3.4)(10.03,3.4)}
\end{axis}
\begin{axis}[base,pos={1}{3},xS,yT,lxS]
\ca{(-12.69,4.1)(-12.21,4.6)(-11.63,4.4)(-11.24,3.5)(-10.86,4.6)(-10.18,5.5)(-9.85,4.9)(-9.89,3.0)(-10.47,2.3)(-11.05,2.7)(-11.24,1.9)(-11.63,1.1)(-12.31,0.8)(-12.69,1.6)(-12.79,3.0)}
\cb{(-10.76,4.2)(-10.12,4.9)(-9.98,3.3)(-10.47,2.7)(-10.86,3.3)}
\cc{(-10.57,4.0)(-10.12,4.2)(-10.12,3.3)(-10.51,3.0)}
\cd{(-10.5,3.9)(-10.15,3.9)(-10.15,3.3)(-10.5,3.3)}
\cb{(-12.50,3.5)(-11.73,3.7)(-11.53,2.5)(-11.92,1.5)(-12.50,1.6)}
\cc{(-12.31,3.0)(-11.86,3.0)(-11.82,2.0)(-12.31,2.0)}
\end{axis}
\begin{axis}[base,pos={2}{3},xT,yT,lxT]
\ca{(2.17,0.8)(3.8,1.9)(5.97,3.5)(7.6,4.9)(8.95,5.3)(9.77,4.6)(9.5,3.0)(7.6,2.2)(5.43,1.6)(3.26,0.5)}
\cb{(4.34,2.2)(6.24,3.3)(7.87,4.4)(9.23,4.5)(9.12,3.1)(7.33,2.6)(5.43,2.2)}
\cc{(7.06,3.7)(8.41,4.1)(8.95,3.5)(7.87,3.0)}
\cd{(7.6,3.9)(8.5,3.9)(8.5,3.3)(7.6,3.3)}
\end{axis}
\begin{axis}[base,pos={3}{3},xT,yH,lxU,title={t\textsubscript{75} - t\textsubscript{25} = 2.8\pq{1.1}{1.3}}]
\hT{4\\40\\89\\100\\98\\89\\40\\13\\4\\2\\1\\1\\1\\1\\1\\1\\0\\0\\0\\0}
\qq{1.5}{2.8}{3.9}
\end{axis}
\end{tikzpicture}
\end{document}
